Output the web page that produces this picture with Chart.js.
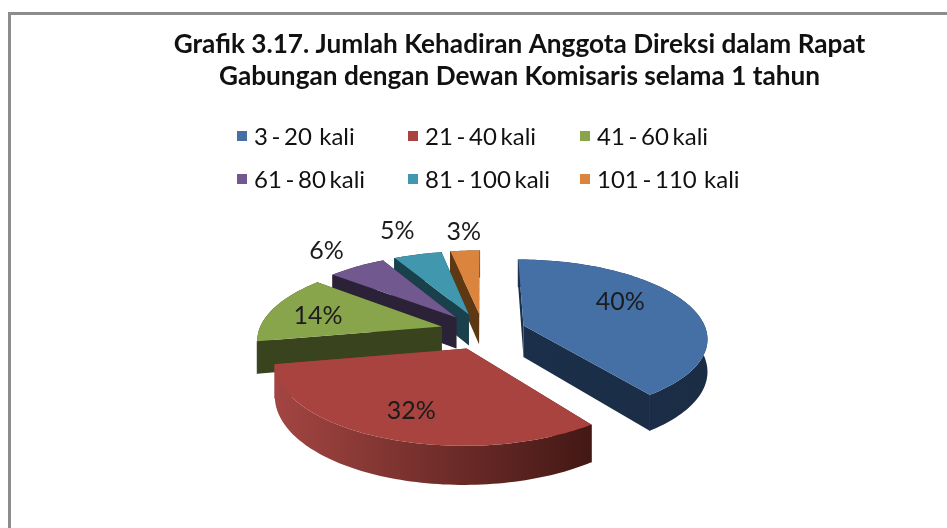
<!DOCTYPE html>
<html>
<head>
<meta charset="utf-8">
<title>Grafik 3.17</title>
<script src="https://cdn.jsdelivr.net/npm/chart.js@4"></script>
<style>
    html, body { margin: 0; padding: 0; background: #fff; overflow: hidden; }
    #wrap { position: relative; width: 947px; height: 528px; overflow: hidden; filter: blur(0.35px); }
    #frame {
        position: absolute; left: 8px; top: 12px; right: -5px; bottom: -5px;
        border-left: 3px solid #8c8c8c; border-top: 3px solid #8c8c8c;
    }
    #pieChart { position: absolute; left: 0; top: 0; }
    .legendItem {
        position: absolute; white-space: pre; color: #111;
        font: 24px/26px Lato, sans-serif; word-spacing: -2.5px;
    }
    .legendItem i {
        position: absolute; left: 0; top: 8px; width: 10px; height: 10px;
    }
    .legendItem span { margin-left: 17px; }
</style>
</head>
<body>
<div id="wrap">
    <div id="frame"></div>
    <canvas id="pieChart" width="947" height="528"></canvas>
    <div id="legend"></div>
</div>
<script>
const categories = ["3 - 20  kali", "21 - 40 kali", "41 - 60 kali", "61 - 80 kali", "81 - 100 kali", "101 - 110  kali"];
const percentages = [40, 32, 14, 6, 5, 3];
const titleLines = ["Grafik 3.17. Jumlah Kehadiran Anggota Direksi dalam Rapat", "Gabungan dengan Dewan Komisaris selama 1 tahun"];

const topColors = ["#4470a6", "#a8433f", "#89a54c", "#71588f", "#4097ae", "#da843d"];
const wallColorsLeft = ["#1b2f4a", "#a34542", "#39431d", "#2c2238", "#19404b", "#5e3713"];
const wallColorsRight = ["#1b2d45", "#431815", "#39431d", "#2c2238", "#19404b", "#5e3713"];
const labelReach = [0.62, 0.76, 0.71, 1.35, 1.48, 1.36];
const labelNudgeX = [-6, 6, -3, 0, 0, 3];
const labelNudgeY = [-9, -3, 2, 0, 0, 0];
const paintOrder = [5, 4, 3, 2, 0, 1];

// tilted pie: center on the page, squash, perspective strength and wall height
const tilt = { cx: 483, cy: 331, squash: 0.422, persp: 0.00081, depth: 32 };

function project(x, y, z){
    const w = 1 - tilt.persp * y;
    return {
        x: tilt.cx + x / w,
        y: tilt.cy + (tilt.squash * y + z) / w
    };
}

function sliceOutline(arc, explode){
    const mid = (arc.startAngle + arc.endAngle) / 2;
    const ox = Math.cos(mid) * explode;
    const oy = Math.sin(mid) * explode;
    const pts = [{ x: ox, y: oy }];
    const steps = Math.max(6, Math.ceil((arc.endAngle - arc.startAngle) * 40));
    for(let i = 0; i <= steps; i++){
        const a = arc.startAngle + (arc.endAngle - arc.startAngle) * i / steps;
        pts.push({ x: ox + Math.cos(a) * arc.outerRadius, y: oy + Math.sin(a) * arc.outerRadius });
    }
    return pts;
}

function fillPoly(ctx, pts, fill){
    ctx.beginPath();
    pts.forEach((p, i) => i ? ctx.lineTo(p.x, p.y) : ctx.moveTo(p.x, p.y));
    ctx.closePath();
    ctx.fillStyle = fill;
    ctx.fill();
}

function seam(ctx, a, b, color){
    ctx.beginPath();
    ctx.moveTo(a.x, a.y);
    ctx.lineTo(b.x, b.y);
    ctx.strokeStyle = color;
    ctx.lineWidth = 1;
    ctx.stroke();
}

const tiltedPie = {
    id: "tiltedPie",
    beforeDatasetDraw(chart){
        const ctx = chart.ctx;
        const arcs = chart.getDatasetMeta(0).data;

        paintOrder.forEach(i => {
            const arc = arcs[i];
            const outline = sliceOutline(arc, arc.options.offset);
            const top = outline.map(p => project(p.x, p.y, 0));
            const bottom = outline.map(p => project(p.x, p.y, tilt.depth));
            const last = top.length - 1;

            const xs = top.map(p => p.x);
            const grad = ctx.createLinearGradient(Math.min(...xs), 0, Math.max(...xs), 0);
            grad.addColorStop(0, wallColorsLeft[i]);
            grad.addColorStop(1, wallColorsRight[i]);

            // two straight faces, then the rim as one strip
            fillPoly(ctx, [top[0], top[1], bottom[1], bottom[0]], grad);
            fillPoly(ctx, [top[0], top[last], bottom[last], bottom[0]], grad);
            fillPoly(ctx, top.slice(1).concat(bottom.slice(1).reverse()), grad);
            seam(ctx, top[1], bottom[1], grad);
            seam(ctx, top[last], bottom[last], grad);
            fillPoly(ctx, top, topColors[i]);
        });

        ctx.save();
        ctx.font = "25px Lato, sans-serif";
        ctx.fillStyle = "#1c1c1c";
        ctx.textAlign = "center";
        ctx.textBaseline = "middle";
        arcs.forEach((arc, i) => {
            const mid = (arc.startAngle + arc.endAngle) / 2;
            const r = arc.options.offset + arc.outerRadius * labelReach[i];
            const p = project(Math.cos(mid) * r, Math.sin(mid) * r, 0);
            ctx.fillText(percentages[i] + "%", p.x + labelNudgeX[i], p.y + labelNudgeY[i]);
        });
        ctx.restore();

        return false;
    }
};

new Chart(document.getElementById("pieChart"), {
    type: "pie",
    data: {
        labels: categories,
        datasets: [{
            data: percentages,
            backgroundColor: topColors,
            offset: 43,
            borderWidth: 0
        }]
    },
    options: {
        responsive: false,
        animation: false,
        radius: 183,
        layout: { padding: { left: 92 } },
        plugins: {
            legend: { display: false },
            tooltip: { enabled: false },
            title: {
                display: true,
                text: titleLines,
                color: "#111",
                font: { family: "Lato, sans-serif", size: 26.2, weight: "bold", lineHeight: 1.2 },
                padding: { top: 29, bottom: 10 }
            }
        }
    },
    plugins: [tiltedPie]
});

// legend in two rows of three
const legendColumns = [237, 408, 580];
const legendRows = [123, 166];
const legend = document.getElementById("legend");
categories.forEach((name, i) => {
    const item = document.createElement("div");
    item.className = "legendItem";
    item.style.left = legendColumns[i % 3] + "px";
    item.style.top = legendRows[Math.floor(i / 3)] + "px";
    const swatch = document.createElement("i");
    swatch.style.background = topColors[i];
    const text = document.createElement("span");
    text.textContent = name;
    item.append(swatch, text);
    legend.append(item);
});
</script>
</body>
</html>
